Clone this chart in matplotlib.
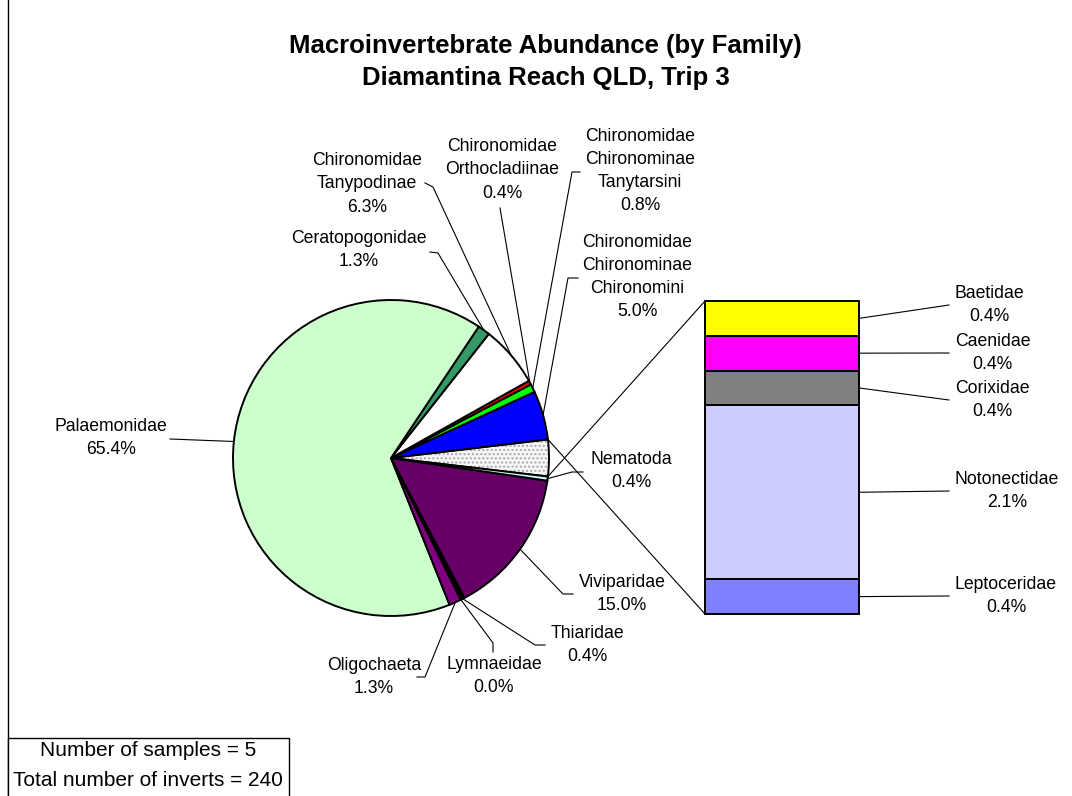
import math
import matplotlib
matplotlib.use("Agg")
import matplotlib.pyplot as plt
from matplotlib.patches import Wedge, Rectangle

plt.rcParams['font.family'] = ['Liberation Sans', 'DejaVu Sans']

# pie slices, going round counter-clockwise from the "other" slice on the right
pie_names = ["Other",
             "Chironomidae\nChironominae\nChironomini",
             "Chironomidae\nChironominae\nTanytarsini",
             "Chironomidae\nOrthocladiinae",
             "Chironomidae\nTanypodinae",
             "Ceratopogonidae",
             "Palaemonidae",
             "Oligochaeta",
             "Lymnaeidae",
             "Thiaridae",
             "Viviparidae",
             "Nematoda"]
pie_counts = [None, 12, 2, 1, 15, 3, 157, 3, 0, 1, 36, 1]
pie_colors = ["none", "#0000FF", "#00FF00", "#FF0000", "#FFFFFF", "#339966",
              "#CCFFCC", "#800080", "#000000", "#000000", "#660066", "#CCFFFF"]

# the split-out bar, top to bottom
bar_names = ["Baetidae", "Caenidae", "Corixidae", "Notonectidae", "Leptoceridae"]
bar_counts = [1, 1, 1, 5, 1]
bar_colors = ["#FFFF00", "#FF00FF", "#808080", "#CCCCFF", "#8080FF"]

n_samples = 5

pie_counts[0] = sum(bar_counts)
total = sum(pie_counts)


def pct(c):
    # excel style rounding (half up)
    return "%.1f%%" % (math.floor(c * 1000.0 / total + 0.5) / 10.0)


# label layout: text block centre, leader path (after the rim point)
pie_layout = {
    1: ((637, 277), [(568, 278), (578, 278)]),
    2: ((640, 171), [(572, 172), (580, 172)]),
    3: ((502, 170), [(500, 208)]),
    4: ((367, 184), [(433, 187), (425, 183)]),
    5: ((359, 250), [(438, 253), (430, 252)]),
    6: ((111, 438), [(170, 439)]),
    7: ((374, 677), [(425, 677), (417, 677)]),
    8: ((494, 676), [(493, 643), (493, 652)]),
    9: ((587, 645), [(535, 645), (545, 645)]),
    10: ((622, 594), [(563, 594), (573, 594)]),
    11: ((631, 471), [(572, 472), (583, 472)]),
}
bar_label_y = [305, 353, 400, 491, 596]

fig = plt.figure(figsize=(10.72, 7.96), dpi=100)
ax = fig.add_axes([0, 0, 1, 1])

cx, cy, r = 391, 458, 158
wedges, _ = ax.pie(pie_counts, colors=pie_colors, center=(cx, cy), radius=r,
                   startangle=6.75, counterclock=False, frame=True,
                   wedgeprops=dict(edgecolor="black", linewidth=1.4))
for w in wedges:
    w.set_zorder(3)

# dotted fill of the "other" slice
w0 = wedges[0]
ax.add_patch(Wedge(w0.center, w0.r, w0.theta1, w0.theta2, facecolor="#F6F6F6",
                   edgecolor="#A8A8A8", hatch="....", linewidth=0, zorder=2))

lab_font = 12.7
lab_space = 1.48
for i, (pos, path) in pie_layout.items():
    w = wedges[i]
    a = math.radians((w.theta1 + w.theta2) / 2.0)
    pts = [(cx + r * math.cos(a), cy + r * math.sin(a))] + path
    ax.plot([p[0] for p in pts], [p[1] for p in pts], color="black", lw=0.8, zorder=4)
    ax.text(pos[0], pos[1], pie_names[i] + "\n" + pct(pie_counts[i]), ha="center", va="center",
            multialignment="center", fontsize=lab_font, linespacing=lab_space, zorder=5)

# bar of the "other" slice
bar_left, bar_w, bar_top, bar_bottom = 705, 154, 301, 614
unit = (bar_bottom - bar_top) / float(sum(bar_counts))
bottoms = []
acc = bar_top
for c in bar_counts:
    bottoms.append(acc)
    acc += c * unit
heights = [c * unit for c in bar_counts]
ax.bar([bar_left + bar_w / 2.0] * len(bar_counts), heights, width=bar_w, bottom=bottoms,
       color=bar_colors, edgecolor="black", linewidth=1.4, zorder=3)

for i in range(len(bar_names)):
    ymid = bottoms[i] + heights[i] / 2.0
    ax.plot([bar_left + bar_w, 949], [ymid, bar_label_y[i]], color="black", lw=0.8, zorder=4)
    ax.text(955, bar_label_y[i], bar_names[i] + "\n" + pct(bar_counts[i]), ha="left",
            va="center", multialignment="center", fontsize=lab_font, linespacing=lab_space)

# connector lines from the other slice to the bar
for ang, yb in [(w0.theta2, bar_top), (w0.theta1, bar_bottom)]:
    a = math.radians(ang)
    ax.plot([cx + r * math.cos(a), bar_left], [cy + r * math.sin(a), yb],
            color="black", lw=0.8, zorder=4)

# titles
ax.text(545, 53, "Macroinvertebrate Abundance (by Family)", ha="center", va="baseline",
        fontsize=18.5, fontweight="bold")
ax.text(546, 85, "Diamantina Reach QLD, Trip 3", ha="center", va="baseline",
        fontsize=18.5, fontweight="bold")

# chart edge and info box
ax.plot([8, 8], [0, 796], color="black", lw=1.0, zorder=1)
ax.add_patch(Rectangle((8, 738), 281, 60, facecolor="white", edgecolor="black", lw=1.0, zorder=6))
ax.text(148, 751, "Number of samples = %d" % n_samples, ha="center", va="center", fontsize=15, zorder=7)
ax.text(148, 780, "Total number of inverts = %d" % total, ha="center", va="center", fontsize=15, zorder=7)

ax.set_xlim(0, 1072)
ax.set_ylim(796, 0)
ax.set_aspect("equal")
ax.axis("off")

fig.savefig("out.png", dpi=100)
